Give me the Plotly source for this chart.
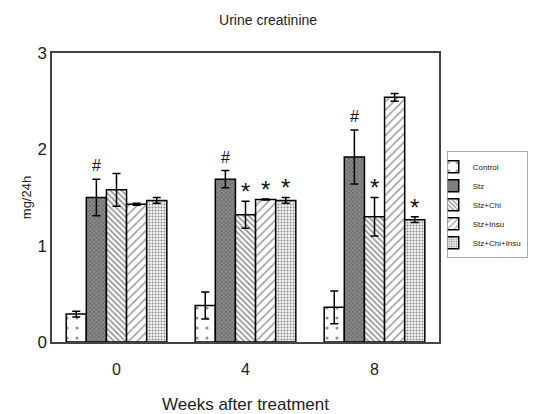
import plotly.graph_objects as go

weeks = ["0", "4", "8"]
series = ["Control", "Stz", "Stz+Chi", "Stz+Insu", "Stz+Chi+Insu"]
values = {
    "Control":      [0.29, 0.38, 0.36],
    "Stz":          [1.50, 1.69, 1.92],
    "Stz+Chi":      [1.58, 1.32, 1.30],
    "Stz+Insu":     [1.43, 1.48, 2.54],
    "Stz+Chi+Insu": [1.47, 1.47, 1.27],
}
errors = {
    "Control":      [0.03, 0.14, 0.17],
    "Stz":          [0.19, 0.09, 0.28],
    "Stz+Chi":      [0.17, 0.14, 0.20],
    "Stz+Insu":     [0.01, 0.005, 0.04],
    "Stz+Chi+Insu": [0.03, 0.03, 0.03],
}
# significance marks: (week index, series name, symbol)
marks = [
    (0, "Stz", "#"), (1, "Stz", "#"), (2, "Stz", "#"),
    (1, "Stz+Chi", "*"), (1, "Stz+Insu", "*"), (1, "Stz+Chi+Insu", "*"),
    (2, "Stz+Chi", "*"), (2, "Stz+Chi+Insu", "*"),
]

styles = {
    "Control":      dict(color="white", pattern=dict(shape=".", fgcolor="#222", bgcolor="white", size=10, solidity=0.08)),
    "Stz":          dict(color="#6a6a6a", pattern=dict(shape="x", fgcolor="#3a3a3a", bgcolor="#8a8a8a", size=3, solidity=0.4)),
    "Stz+Chi":      dict(color="white", pattern=dict(shape="\\", fgcolor="#222", bgcolor="white", size=4, solidity=0.4)),
    "Stz+Insu":     dict(color="white", pattern=dict(shape="/", fgcolor="#333", bgcolor="white", size=6, solidity=0.25)),
    "Stz+Chi+Insu": dict(color="#aaa", pattern=dict(shape=".", fgcolor="#222", bgcolor="#f4f4f4", size=3, solidity=0.35)),
}

FONT = "Liberation Sans Narrow, Arial Narrow, Liberation Sans, Arial"
bargap = 0.22

fig = go.Figure()
for s in series:
    st = styles[s]
    fig.add_trace(go.Bar(
        name=s, x=weeks, y=values[s],
        marker=dict(color=st["color"], pattern=st["pattern"],
                    line=dict(color="black", width=1.5)),
        error_y=dict(type="data", array=errors[s], color="black", thickness=1.5, width=4),
    ))

bw = (1 - bargap) / len(series)
for wi, s, sym in marks:
    si = series.index(s)
    xpos = wi + (si - (len(series) - 1) / 2) * bw
    pad = 0.14 if sym == "#" else 0.10
    fig.add_annotation(x=xpos, y=values[s][wi] + errors[s][wi] + pad, xref="x", yref="y",
                       text=sym, showarrow=False, yanchor="middle",
                       font=dict(family=FONT, size=16 if sym == "#" else 24, color="#111"))

fig.update_layout(
    width=534, height=414,
    margin=dict(l=52, r=95, t=53, b=72, autoexpand=False),
    paper_bgcolor="white", plot_bgcolor="white",
    barmode="group", bargap=bargap, bargroupgap=0,
    title=dict(text="Urine creatinine", x=0.502, xanchor="center", y=0.952, yanchor="middle",
               font=dict(family=FONT, size=14, color="#222")),
    font=dict(family=FONT, color="#222"),
    legend=dict(x=1.02, xanchor="left", y=0.66, yanchor="top",
                bordercolor="#aaa", borderwidth=1, bgcolor="white",
                font=dict(family=FONT, size=8, color="#222"),
                itemwidth=30, tracegroupgap=0, indentation=-15),
    xaxis=dict(type="category", categoryorder="array", categoryarray=weeks,
               showline=True, linecolor="#444", linewidth=1.5, mirror=True,
               ticks="", tickfont=dict(size=16, family=FONT), ticklabelstandoff=12,
               title=dict(text="Weeks after treatment", font=dict(size=17, family=FONT), standoff=22)),
    yaxis=dict(range=[0, 3], tickvals=[0, 1, 2, 3], showgrid=False, zeroline=False,
               showline=True, linecolor="#444", linewidth=1.5, mirror=True,
               ticks="", tickfont=dict(size=17, family=FONT),
               title=dict(text="mg/24h", font=dict(size=13, family=FONT), standoff=3)),
)

fig.write_html("out.html")
